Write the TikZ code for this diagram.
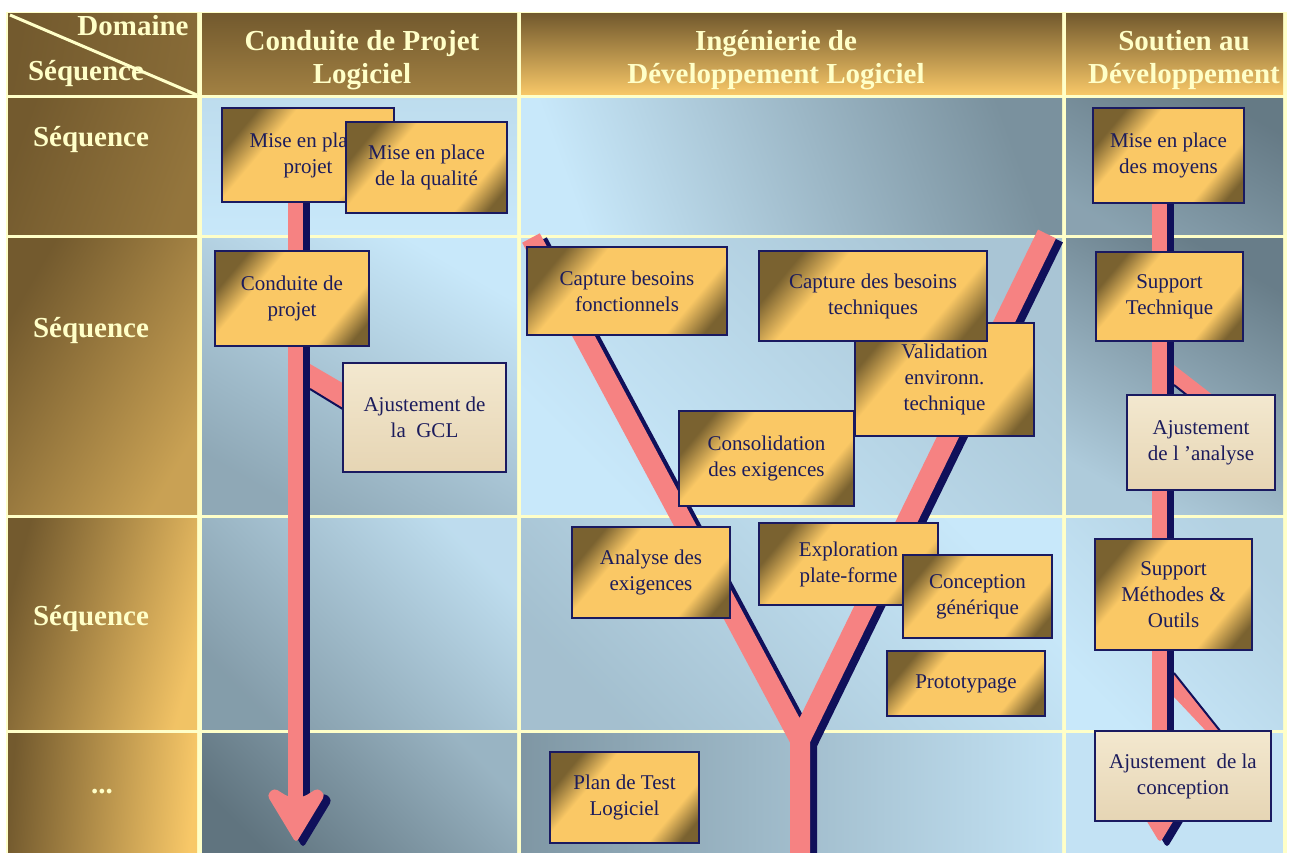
\documentclass[tikz,border=0pt]{standalone}
\usepackage{fontspec}
\setmainfont{Liberation Serif}
\usetikzlibrary{calc,positioning}

\definecolor{cream}{HTML}{FFFFC8}
\definecolor{hdrdark}{HTML}{735A2E}
\definecolor{hdrgold}{HTML}{F8C868}
\definecolor{boxgold}{HTML}{FAC865}
\definecolor{boxbrown}{HTML}{7A6230}
\definecolor{boxnavy}{HTML}{1A1A60}
\definecolor{textnavy}{HTML}{1C1C5C}
\definecolor{barpink}{HTML}{F68282}
\definecolor{barnavy}{HTML}{10105A}
\definecolor{skylight}{HTML}{C8E8FA}
\definecolor{skygrey}{HTML}{60747F}
\definecolor{parchlight}{HTML}{F3E8CF}
\definecolor{parchdark}{HTML}{E6D5B4}

\pgfdeclarehorizontalshading{goldbox}{100bp}{color(0bp)=(boxbrown); color(25bp)=(boxbrown); color(36bp)=(boxgold); color(69bp)=(boxgold); color(79bp)=(boxbrown); color(100bp)=(boxbrown)}

\tikzset{
  card/.style={draw=boxnavy, line width=2.6, text=textnavy, align=center,
    font=\fontsize{21}{26}\selectfont, inner sep=0pt},
  gbox/.style={card, shade, shading=goldbox, shading angle=-40},
  pbox/.style={card, top color=parchlight, bottom color=parchdark},
  hdr/.style={text=cream, align=center, font=\bfseries\fontsize{29}{33}\selectfont},
  bar/.style={draw=barpink, line width=#1},
  bar/.default=15,
  barshadow/.style={draw=barnavy, line width=#1},
  barshadow/.default=15,
}

% arrow head pointing down, tip at #1
\newcommand{\headdown}[2]{%
  \fill[#2, rounded corners=4, shift={#1}] (-7.5,-46) -- (-22,-55) -- (-29,-48) -- (0,0)
    -- (29,-48) -- (22,-55) -- (7.5,-46) -- cycle;}
% the Y of the central domain
\newcommand{\ypath}{(531,238) -- (800,740) -- (1047,234) (800,740) -- (800,870)}

\begin{document}
\begin{tikzpicture}[x=1pt, y=-1pt]
\useasboundingbox (0,0) rectangle (1296,853);
\fill[white] (0,0) rectangle (1296,853);

%Frame
\fill[cream] (6,12) rectangle (1287,853);

%Header row
\shade[top color=hdrdark, bottom color=hdrgold!15!hdrdark, shading angle=80] (8,14) rectangle (197,95);
\shade[top color=hdrdark, bottom color=hdrgold!35!hdrdark] (202,14) rectangle (517,95);
\shade[top color=hdrdark, bottom color=hdrgold] (521,14) rectangle (1062,95);
\shade[top color=hdrdark, bottom color=hdrgold] (1066,14) rectangle (1283,95);

%Sequence column
\shade[top color=hdrdark, bottom color=hdrgold!25!hdrdark, shading angle=70] (8,99) rectangle (197,235);
\shade[top color=hdrdark, bottom color=hdrgold!65!hdrdark, shading angle=60] (8,239) rectangle (197,514);
\shade[top color=hdrdark, bottom color=hdrgold!95!hdrdark, shading angle=75] (8,518) rectangle (197,729);
\shade[top color=hdrdark, bottom color=hdrgold, shading angle=85] (8,733) rectangle (197,853);

%Cells
\shade[top color=skylight!90!skygrey, bottom color=skylight] (202,99) rectangle (517,235);
\shade[top color=skylight!25!skygrey, bottom color=skylight, shading angle=-70] (521,99) rectangle (1062,235);
\shade[top color=skylight!5!skygrey, bottom color=skylight!40!skygrey, shading angle=-30] (1066,99) rectangle (1283,235);

\shade[top color=skylight, bottom color=skylight!45!skygrey, shading angle=-30] (202,239) rectangle (517,514);
\shade[top color=skylight!70!skygrey, bottom color=skylight, shading angle=-45] (521,239) rectangle (1062,514);
\shade[top color=skylight!8!skygrey, bottom color=skylight!75!skygrey, shading angle=-30] (1066,239) rectangle (1283,514);

\shade[top color=skylight!90!skygrey, bottom color=skylight!35!skygrey, shading angle=-45] (202,518) rectangle (517,729);
\shade[top color=skylight, bottom color=skylight!65!skygrey, shading angle=-45] (521,518) rectangle (1062,729);
\shade[top color=skylight!80!skygrey, bottom color=skylight, shading angle=-45] (1066,518) rectangle (1283,729);

\shade[top color=skylight!55!skygrey, bottom color=skygrey, shading angle=-45] (202,733) rectangle (517,853);
\shade[top color=skylight!30!skygrey, bottom color=skylight!95!skygrey, shading angle=90] (521,733) rectangle (1062,853);
\fill[skylight!95!skygrey] (1066,733) rectangle (1283,853);

%Headers
\node[hdr] (dom) at (133,26) {Domaine};
\node[hdr] (seq0) at (86,74) {Séquence};
\draw[cream, line width=3] (10,15) -- (197,95);
\node[hdr] (cpl) at (362,60) {Conduite de Projet\\Logiciel};
\node[hdr] (idl) at (776,60) {Ingénierie de\\Développement Logiciel};
\node[hdr] (sad) at (1184,60) {Soutien au\\Développement};

\node[hdr] (seq1) at (91,140) {Séquence};
\node[hdr] (seq2) at (91,331) {Séquence};
\node[hdr] (seq3) at (91,619) {Séquence};
\node[hdr] (seq4) at (102,792) {...};

%Y
\draw[barshadow=20, shift={(7,4)}] \ypath;
\draw[bar=20] \ypath;

%Left stem
\draw[barshadow, shift={(7,5)}] (295,196) -- (295,805);
\headdown{(303,848)}{barnavy}
\draw[bar] (295,196) -- (295,805);
\headdown{(296,843)}{barpink}
\fill[barpink] (310,364) -- (346,385) -- (346,411) -- (310,389) -- cycle;
\draw[barnavy, line width=2] (310,389) -- (346,411);

%Right stem
\draw[barshadow, shift={(7,5)}] (1159.5,196) -- (1159.5,805);
\headdown{(1167,848)}{barnavy}
\draw[bar] (1159.5,196) -- (1159.5,805);
\headdown{(1160,843)}{barpink}
\fill[barpink] (1174,365) -- (1214,396) -- (1188,396) -- (1174,385) -- cycle;
\draw[barnavy, line width=2] (1174,385) -- (1188,396);
\fill[barpink] (1174,673) -- (1221,732) -- (1207,732) -- (1174,697) -- cycle;
\draw[barnavy, line width=2] (1174,673) -- (1221,732);

%Conduite de projet
\node[gbox, minimum width=172, minimum height=94] (mep) at (308,155) {Mise en place\\projet};
\node[gbox, minimum width=161, minimum height=91] (mqual) at (426.5,167.5) {Mise en place\\de la qualité};
\node[gbox, minimum width=154, minimum height=95] (cdp) at (292,298.5) {Conduite de\\projet};
\node[pbox, minimum width=163, minimum height=109] (gcl) at (424.5,417.5) {Ajustement de\\la\ \ GCL};

%Ingenierie
\node[gbox, minimum width=200, minimum height=88] (cbf) at (627,291) {Capture besoins\\fonctionnels};
\node[gbox, minimum width=179, minimum height=113] (venv) at (944.5,379.5) {Validation\\environn.\\technique};
\node[gbox, minimum width=228, minimum height=90] (cbt) at (873,296) {Capture des besoins\\techniques};
\node[gbox, minimum width=175, minimum height=95] (cons) at (766.5,458.5) {Consolidation\\des exigences};
\node[gbox, minimum width=158, minimum height=91] (anex) at (651,572.5) {Analyse des\\exigences};
\node[gbox, minimum width=179, minimum height=82] (expl) at (848.5,564) {Exploration\\plate-forme};
\node[gbox, minimum width=149, minimum height=83] (cgen) at (977.5,596.5) {Conception\\générique};
\node[gbox, minimum width=158, minimum height=65] (proto) at (966,683.5) {Prototypage};
\node[gbox, minimum width=149, minimum height=91] (ptest) at (624.5,797.5) {Plan de Test\\Logiciel};

%Soutien
\node[gbox, minimum width=151, minimum height=95] (mmoy) at (1168.5,155.5) {Mise en place\\des moyens};
\node[gbox, minimum width=147, minimum height=89] (stech) at (1169.5,296.5) {Support\\Technique};
\node[pbox, minimum width=148, minimum height=95] (ajan) at (1201,442.5) {Ajustement\\de l ’analyse};
\node[gbox, minimum width=157, minimum height=111] (smo) at (1173.5,594.5) {Support\\Méthodes \&\\Outils};
\node[pbox, minimum width=176, minimum height=90] (ajco) at (1183,776) {Ajustement\ \ de la\\conception};

\end{tikzpicture}
\end{document}
